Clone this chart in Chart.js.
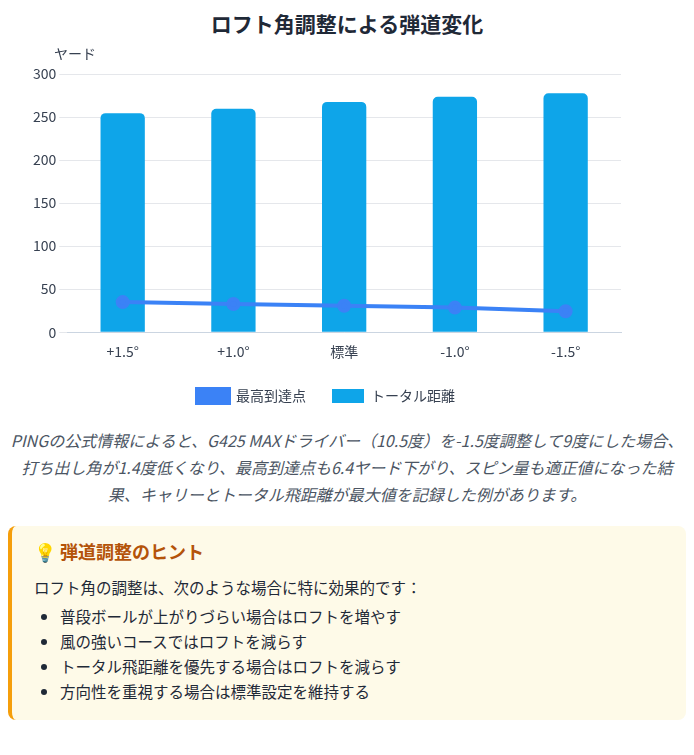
<!DOCTYPE html>
<html><head><meta charset="utf-8">
<script src="https://cdn.jsdelivr.net/npm/chart.js@4"></script>
<style>
body{margin:0;font-family:"Noto Sans CJK JP","Noto Sans",sans-serif;background:#fff;color:#1f2937;width:694px}
h2{margin:8px 0 0;text-align:center;font-size:21px;font-weight:bold;color:#1f2937}
#wrap{position:relative;height:375px;margin:0 0 0 30px;width:600px}
p.note{font-style:italic;color:#4b5563;font-size:16px;line-height:27px;margin:14px 8px 0 8px;text-align:center}
.hint{margin:18px 8px 0 8px;background:#fefae8;border-left:4px solid #f59e0b;border-radius:8px;padding:12px 20px 14px 22px;height:194px;box-sizing:border-box}
.hint h3{margin:0 0 12px;color:#b45309;font-size:18px;font-weight:bold}
.hint div{font-size:15.5px;margin-bottom:6px}
.hint ul{margin:0;padding-left:26px;font-size:15.5px;line-height:25px}
</style></head><body>
<h2>ロフト角調整による弾道変化</h2>
<div id="wrap"><canvas id="c"></canvas></div>
<p class="note">PINGの公式情報によると、G425 MAXドライバー（10.5度）を-1.5度調整して9度にした場合、打ち出し角が1.4度低くなり、最高到達点も6.4ヤード下がり、スピン量も適正値になった結果、キャリーとトータル飛距離が最大値を記録した例があります。</p>
<div class="hint"><h3>💡 弾道調整のヒント</h3>
<div>ロフト角の調整は、次のような場合に特に効果的です：</div>
<ul><li>普段ボールが上がりづらい場合はロフトを増やす</li><li>風の強いコースではロフトを減らす</li><li>トータル飛距離を優先する場合はロフトを減らす</li><li>方向性を重視する場合は標準設定を維持する</li></ul></div>
<script>
const categories=["+1.5°","+1.0°","標準","-1.0°","-1.5°"];
const apexValues=[35,32.8,30.7,28.6,24.4];
const totalValues=[254.5,259.6,267.6,273.5,277.7];
const yUnit='ヤード';
Chart.defaults.font.family='"Noto Sans CJK JP","Noto Sans",sans-serif';
Chart.defaults.color='#374151';
const unitPlugin={id:'unit',afterDraw(ch){const c=ch.ctx;c.save();c.font='14px "Noto Sans CJK JP"';c.fillStyle='#374151';c.textAlign='left';c.textBaseline='middle';c.fillText(yUnit,24,16);c.restore();}};
new Chart(document.getElementById('c'),{
data:{labels:categories,datasets:[
{type:'line',label:'最高到達点',data:apexValues,borderColor:'#3b82f6',backgroundColor:'#3b82f6',borderWidth:4,pointRadius:5,order:0},
{type:'bar',label:'トータル距離',data:totalValues,backgroundColor:'#0ea5e9',borderRadius:5,barPercentage:0.8,categoryPercentage:0.5,order:1}
]},
options:{responsive:true,maintainAspectRatio:false,animation:false,
layout:{padding:{top:36,right:8}},
plugins:{legend:{position:'bottom',labels:{font:{size:14},padding:26,boxWidth:32,boxHeight:14}},title:{display:false}},
scales:{x:{grid:{display:false},ticks:{font:{size:14}},border:{color:'#cbd5e1'}},
y:{min:0,max:300,ticks:{stepSize:50,font:{size:14}},grid:{color:'#e5e7eb'},border:{display:false}}}},
plugins:[unitPlugin]
});
</script></body></html>
